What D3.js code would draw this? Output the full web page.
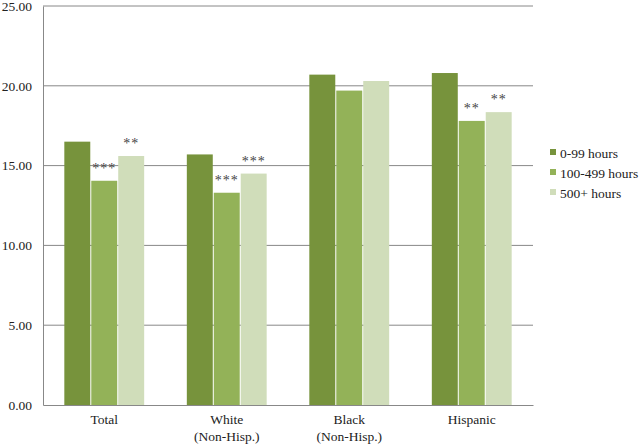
<!DOCTYPE html>
<html>
<head>
<meta charset="utf-8">
<script src="https://cdn.jsdelivr.net/npm/d3@7"></script>
<style>
  body { margin: 0; background: #fff; }
  text { font-family: "Liberation Serif", "Times New Roman", serif; fill: #222; }
</style>
</head>
<body>
<div id="chart"></div>
<script>
// data
const groups = ["Total", "White|(Non-Hisp.)", "Black|(Non-Hisp.)", "Hispanic"];
const series = ["0-99 hours", "100-499 hours", "500+ hours"];
const colors = ["#77933c", "#93b258", "#d0ddba"];
const hrs0to99 = [16.5, 15.7, 20.7, 20.8];
const hrs100to499 = [14.05, 13.3, 19.7, 17.8];
const hrs500plus = [15.6, 14.5, 20.3, 18.35];
const sigMarks = [["", "***", "**"], ["", "***", "***"], ["", "", ""], ["", "**", "**"]];
const yTicks = [0, 5, 10, 15, 20, 25];

const values = [hrs0to99, hrs100to499, hrs500plus];

const W = 640, H = 445;
const margin = { top: 6, right: 107, bottom: 40, left: 43 };
const width = W - margin.left - margin.right;
const height = H - margin.top - margin.bottom;

const svg = d3.select("#chart").append("svg")
    .attr("width", W)
    .attr("height", H);

const g = svg.append("g")
    .attr("transform", `translate(${margin.left},${margin.top})`);

const x0 = d3.scaleBand()
    .domain(groups)
    .range([0, width])
    .paddingInner(0.34)
    .paddingOuter(0.17);

const x1 = d3.scaleBand()
    .domain(series)
    .range([0, x0.bandwidth()]);

const y = d3.scaleLinear()
    .domain([0, 25])
    .range([height, 0]);

// gridlines
g.selectAll("line.grid")
    .data(yTicks.filter(d => d > 0))
    .enter().append("line")
    .attr("class", "grid")
    .attr("x1", 0)
    .attr("x2", width)
    .attr("y1", d => y(d))
    .attr("y2", d => y(d))
    .attr("stroke", "#888")
    .attr("stroke-width", 1);

// y axis labels
const yAxis = g.append("g")
    .call(d3.axisLeft(y).tickValues(yTicks).tickFormat(d3.format(".2f")).tickSize(0).tickPadding(11));
yAxis.select(".domain").attr("stroke", "#888");
yAxis.selectAll("text").style("font-size", "13.5px").attr("fill", "#222");

// bars
const grp = g.selectAll("g.group")
    .data(groups)
    .enter().append("g")
    .attr("class", "group")
    .attr("transform", d => `translate(${x0(d)},0)`);

grp.selectAll("rect")
    .data((d, i) => series.map((s, j) => ({ s, v: values[j][i] })))
    .enter().append("rect")
    .attr("x", d => x1(d.s) + 0.5)
    .attr("width", x1.bandwidth() - 1)
    .attr("y", d => y(d.v))
    .attr("height", d => height - y(d.v))
    .attr("fill", (d, j) => colors[j]);

// significance stars
grp.selectAll("text.sig")
    .data((d, i) => series.map((s, j) => ({ s, v: values[j][i], m: sigMarks[i][j] })))
    .enter().append("text")
    .attr("class", "sig")
    .attr("x", d => x1(d.s) + x1.bandwidth() / 2)
    .attr("y", d => y(d.v) - 8)
    .attr("text-anchor", "middle")
    .style("font-size", "14px")
    .style("letter-spacing", "1px")
    .style("fill", "#444")
    .text(d => d.m);

// x axis
const xAxis = g.append("g")
    .attr("transform", `translate(0,${height})`)
    .call(d3.axisBottom(x0).tickSize(0).tickFormat(""));
xAxis.select(".domain").attr("stroke", "#888");

groups.forEach(gname => {
    const lines = gname.split("|");
    const t = g.append("text")
        .attr("x", x0(gname) + x0.bandwidth() / 2)
        .attr("y", height + 19)
        .attr("text-anchor", "middle")
        .style("font-size", "13.5px");
    lines.forEach((l, k) => {
        t.append("tspan")
            .attr("x", x0(gname) + x0.bandwidth() / 2)
            .attr("dy", k === 0 ? 0 : 17)
            .text(l);
    });
});

// legend
const legend = svg.append("g")
    .attr("transform", "translate(550,153)");
series.forEach((s, i) => {
    const row = legend.append("g").attr("transform", `translate(0,${i * 20})`);
    row.append("rect")
        .attr("x", 0).attr("y", -4)
        .attr("width", 6).attr("height", 6)
        .attr("fill", colors[i]);
    row.append("text")
        .attr("x", 10).attr("y", 4.5)
        .style("font-size", "13.5px")
        .text(s);
});
</script>
</body>
</html>
